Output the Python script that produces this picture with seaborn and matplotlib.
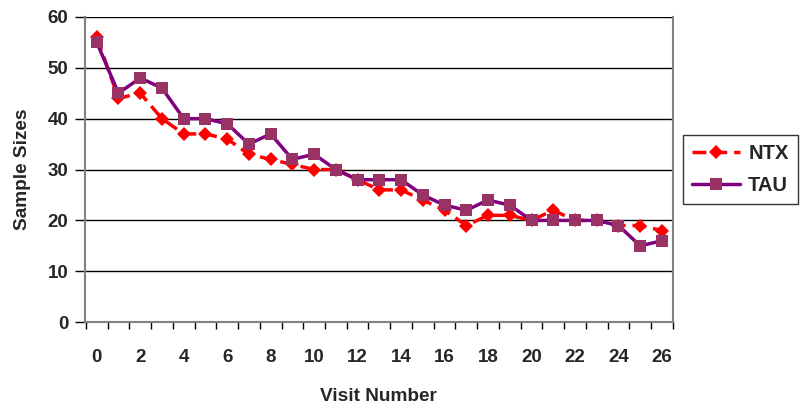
import matplotlib
matplotlib.use("Agg")
import matplotlib.pyplot as plt
import seaborn as sns
import numpy as np
import pandas as pd
from matplotlib.ticker import MultipleLocator, FixedLocator

visits = list(range(27))
ntx = [56, 44, 45, 40, 37, 37, 36, 33, 32, 31, 30, 30, 28, 26, 26, 24, 22, 19, 21, 21, 20, 22, 20, 20, 19, 19, 18]
tau = [55, 45, 48, 46, 40, 40, 39, 35, 37, 32, 33, 30, 28, 28, 28, 25, 23, 22, 24, 23, 20, 20, 20, 20, 19, 15, 16]
x_ticklabels = [str(v) for v in range(0, 27, 2)]

sns.set_theme(style="white")
plt.rcParams['font.family'] = ['Liberation Sans', 'DejaVu Sans']

fig = plt.figure(figsize=(8, 4.12), dpi=100)
ax = fig.add_axes([0.106, 0.218, 0.735, 0.741])

df_ntx = pd.DataFrame({"Visit": visits, "Size": ntx})
df_tau = pd.DataFrame({"Visit": visits, "Size": tau})

sns.lineplot(data=df_ntx, x="Visit", y="Size", ax=ax, color="#FF0000", lw=2.5,
             marker="D", markersize=7, markeredgewidth=0, markerfacecolor="#FF0000",
             linestyle=(0, (4, 2)), label="NTX", zorder=3)
sns.lineplot(data=df_tau, x="Visit", y="Size", ax=ax, color="#800080", lw=2.5,
             marker="s", markersize=9, markeredgewidth=0, markerfacecolor="#993366",
             label="TAU", zorder=4)

ax.set_xlim(-0.55, 26.5)
ax.set_ylim(0, 60)
ax.yaxis.set_major_locator(MultipleLocator(10))
ax.set_xticks(range(0, 27, 2))
ax.set_xticklabels(x_ticklabels)
ax.xaxis.set_minor_locator(FixedLocator(np.arange(-0.5, 27, 1)))
ax.tick_params(axis='x', which='major', length=0, labelsize=13.5, pad=19)
ax.tick_params(axis='x', which='minor', length=5, width=1, color='black', direction='out', bottom=True)
ax.tick_params(axis='y', which='major', length=7, width=1, color='black', direction='out', left=True,
               labelsize=13.5, pad=5)
for lab in ax.get_xticklabels() + ax.get_yticklabels():
    lab.set_fontweight('bold')

ax.grid(axis='y', color='black', lw=1)
ax.grid(axis='x', visible=False)
ax.set_axisbelow(True)
for side in ['left', 'bottom', 'right']:
    ax.spines[side].set_color('#808080')
    ax.spines[side].set_linewidth(1.5)
ax.spines['top'].set_visible(False)

ax.set_xlabel("Visit Number", fontsize=13.7, fontweight='bold', labelpad=16)
ax.set_ylabel("Sample Sizes", fontsize=13.7, fontweight='bold', labelpad=12)

leg = ax.legend(loc='center left', bbox_to_anchor=(1.017, 0.5), frameon=True, fancybox=False,
                edgecolor='black', prop={'weight': 'bold', 'size': 14.5},
                handlelength=2.4, handletextpad=0.4, borderpad=0.45, labelspacing=0.6,
                borderaxespad=0.0)
leg.get_frame().set_linewidth(1)

fig.savefig("out.png", dpi=100)
